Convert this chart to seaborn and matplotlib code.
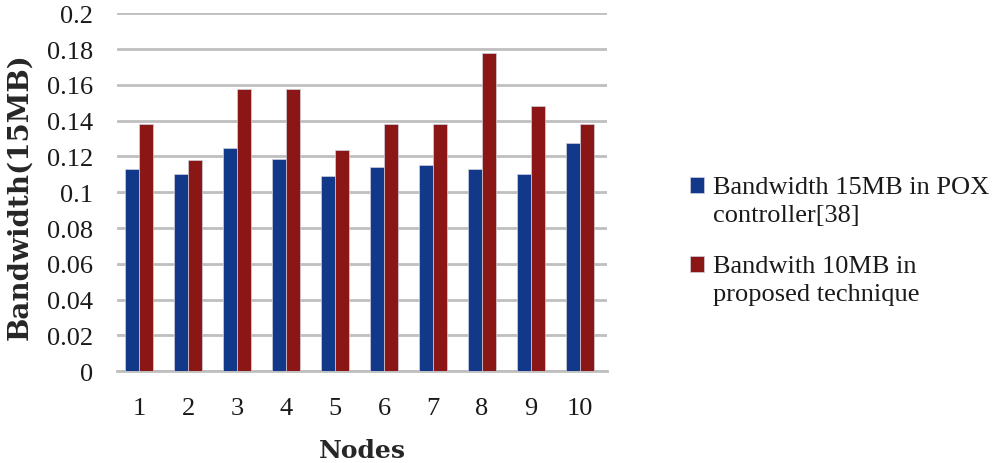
import matplotlib
matplotlib.use("Agg")
import matplotlib.pyplot as plt
import seaborn as sns
import pandas as pd

nodes = ["1", "2", "3", "4", "5", "6", "7", "8", "9", "10"]
pox = [0.113, 0.110, 0.125, 0.1185, 0.109, 0.114, 0.1155, 0.113, 0.110, 0.1275]
proposed = [0.138, 0.118, 0.158, 0.158, 0.1235, 0.138, 0.138, 0.178, 0.148, 0.138]
series_names = ["Bandwidth 15MB in POX\ncontroller[38]", "Bandwith 10MB in\nproposed technique"]
y_ticks = [0, 0.02, 0.04, 0.06, 0.08, 0.1, 0.12, 0.14, 0.16, 0.18, 0.2]
y_ticklabels = ["0", "0.02", "0.04", "0.06", "0.08", "0.1", "0.12", "0.14", "0.16", "0.18", "0.2"]

df = pd.DataFrame({
    "Nodes": nodes * 2,
    "value": pox + proposed,
    "series": [series_names[0]] * len(nodes) + [series_names[1]] * len(nodes),
})

sns.set_style("white")
plt.rcParams["font.family"] = ["Liberation Serif", "DejaVu Serif"]
plt.rcParams["text.color"] = "#1a1a1a"
plt.rcParams["xtick.color"] = "#1a1a1a"
plt.rcParams["ytick.color"] = "#1a1a1a"

fig = plt.figure(figsize=(10, 4.64), dpi=100)
ax = fig.add_axes([0.117, 0.198, 0.49, 0.771])

sns.barplot(data=df, x="Nodes", y="value", hue="series", order=nodes,
            hue_order=series_names, palette=["#12388A", "#8A1616"],
            width=0.57, saturation=1, ax=ax, edgecolor="#d0d0e0", linewidth=0.5,
            zorder=3)

ax.set_ylim(0, 0.2)
ax.set_yticks(y_ticks)
ax.set_yticklabels(y_ticklabels)
ax.yaxis.grid(True, color="#BFBFBF", linewidth=2, zorder=0)
ax.set_axisbelow(True)
for s in ["top", "right", "left"]:
    ax.spines[s].set_visible(False)
ax.spines["bottom"].set_color("#BFBFBF")
ax.spines["bottom"].set_linewidth(2)
ax.tick_params(axis="both", length=0, labelsize=19)
ax.tick_params(axis="y", pad=17)
ax.tick_params(axis="x", pad=18.5)
ax.set_xlim(-0.45, 9.55)

bold = dict(fontfamily="DejaVu Serif", fontweight="bold")
ax.set_xlabel("Nodes", fontsize=18, labelpad=14, **bold)
ax.set_ylabel("Bandwidth(15MB)", fontsize=20, **bold)
ax.yaxis.set_label_coords(-0.171, 0.49)

leg = ax.legend(loc="upper left", bbox_to_anchor=(0.690, 0.618),
                bbox_transform=fig.transFigure, frameon=False,
                fontsize=19, handlelength=0.52, handleheight=0.52, handletextpad=0.34,
                labelspacing=1.1, borderaxespad=0, borderpad=0)
for t in leg.get_texts():
    t.set_linespacing(1.35)
for h in leg.legend_handles:
    h.set_y(h.get_y() + 11)

fig.savefig("out.png", dpi=100)
